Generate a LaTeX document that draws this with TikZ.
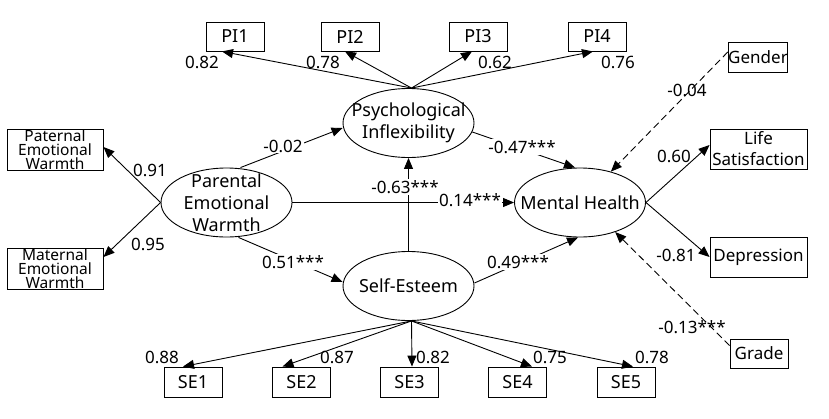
\documentclass[tikz,border=0pt]{standalone}
\usepackage{fontspec}
\setmainfont{Noto Sans}
\usetikzlibrary{arrows.meta,shapes.geometric}
\begin{document}
\begin{tikzpicture}[x=1pt,y=-1pt,
  lat/.style={draw, ellipse, minimum width=131pt, minimum height=69pt, inner sep=0pt, line width=0.9pt},
  lattext/.style={inner sep=0pt, align=center, font=\fontsize{18}{22}\selectfont},
  obs/.style={draw, rectangle, inner sep=0pt, align=center, line width=0.9pt, font=\fontsize{17}{21}\selectfont},
  obsbig/.style={obs, font=\fontsize{18}{21}\selectfont},
  obstight/.style={obs, font=\fontsize{15.5}{13.8}\selectfont},
  num/.style={inner sep=1pt, font=\fontsize{17}{20}\selectfont},
  numw/.style={num, fill=white},
  arr/.style={-{Triangle[length=11pt,width=9pt]}, line width=0.9pt},
  darr/.style={arr, dash pattern=on 7pt off 4pt}]
\useasboundingbox (0,0) rectangle (829,418);

% latent variables
\node[lat] (PEW) at (226.5,202.5) {};
\node[lattext] (PEWt) at (PEW) {Parental\\Emotional\\Warmth};
\node[lat] (PIe) at (408.5,123) {};
\node[lattext] (PIet) at (PIe) {Psychological\\Inflexibility};
\node[lat] (MH) at (580,202.5) {};
\node[lattext] (MHt) at (MH) {Mental Health};
\node[lat] (SEe) at (408.5,286) {};
\node[lattext] (SEet) at (SEe) {Self-Esteem};

% observed
\node[obstight, minimum width=96pt, minimum height=41pt] (Pat) at (55,149.5) {Paternal\\Emotional\\Warmth};
\node[obstight, minimum width=96pt, minimum height=41pt] (Mat) at (55,268.5) {Maternal\\Emotional\\Warmth};
\node[obsbig, minimum width=58pt, minimum height=29pt] (PI1) at (235,36.5) {PI1};
\node[obsbig, minimum width=58pt, minimum height=29pt] (PI2) at (350,36.5) {PI2};
\node[obsbig, minimum width=58pt, minimum height=29pt] (PI3) at (478,36.5) {PI3};
\node[obsbig, minimum width=58pt, minimum height=29pt] (PI4) at (597,36.5) {PI4};
\node[obsbig, minimum width=58pt, minimum height=30pt] (SE1) at (193,382) {SE1};
\node[obsbig, minimum width=58pt, minimum height=30pt] (SE2) at (301.5,382) {SE2};
\node[obsbig, minimum width=58pt, minimum height=30pt] (SE3) at (409.5,382) {SE3};
\node[obsbig, minimum width=58pt, minimum height=30pt] (SE4) at (517.5,382) {SE4};
\node[obsbig, minimum width=58pt, minimum height=30pt] (SE5) at (626,382) {SE5};
\node[obs, minimum width=58pt, minimum height=30pt] (Gender) at (758,57) {Gender};
\node[obs, minimum width=97pt, minimum height=40pt] (LS) at (758.5,149) {Life\\Satisfaction};
\node[obs, minimum width=97pt, minimum height=40pt] (Dep) at (758.5,257) {Depression};
\node[obs, minimum width=58pt, minimum height=29pt] (Grade) at (759,353.5) {Grade};

% loadings
\draw[arr] ([xshift=3pt]PIe.north) -- ([xshift=-13pt]PI1.south);
\draw[arr] ([xshift=3pt]PIe.north) -- ([xshift=-5pt]PI2.south);
\draw[arr] ([xshift=3pt]PIe.north) -- ([xshift=-6pt]PI3.south);
\draw[arr] ([xshift=3pt]PIe.north) -- ([xshift=-4pt]PI4.south);
\draw[arr] ([xshift=3pt]SEe.south) -- ([xshift=-10pt]SE1.north);
\draw[arr] ([xshift=3pt]SEe.south) -- ([xshift=-19pt]SE2.north);
\draw[arr] ([xshift=3pt]SEe.south) -- ([xshift=2.5pt]SE3.north);
\draw[arr] ([xshift=3pt]SEe.south) -- ([xshift=14.5pt]SE4.north);
\draw[arr] ([xshift=3pt]SEe.south) -- ([xshift=7pt]SE5.north);
\draw[arr] (PEW.west) -- ([yshift=2.5pt]Pat.east);
\draw[arr] (PEW.west) -- ([yshift=11.5pt]Mat.east);
\draw[arr] (MH.east) -- ([yshift=4pt]LS.west);
\draw[arr] (MH.east) -- (Dep.west);

% structural paths
\draw[arr] ([xshift=14pt]PEW.north) -- ([yshift=-5pt]PIe.west);
\draw[arr] ([xshift=12pt]PEW.south) -- ([yshift=4pt]SEe.west);
\draw[arr] (PEW.east) -- (MH.west);
\draw[arr] (SEe.north) -- (PIe.south);
\draw[arr] (PIe.-8) -- ([xshift=-5pt]MH.north);
\draw[arr] ([yshift=3pt]SEe.east) -- ([xshift=-2pt]MH.south);
\draw[darr] ([yshift=5pt]Gender.west) -- (MH.45);
\draw[darr] ([yshift=8pt]Grade.west) -- (MH.-40);

% coefficient labels
\node[numw] (l1) at (283,146) {-0.02};
\node[numw] (l2) at (293,262) {0.51***};
\node[numw] (l3) at (470,200) {0.14***};
\node[numw] (l4) at (405,187) {-0.63***};
\node[numw] (l5) at (522,147) {-0.47***};
\node[numw] (l6) at (518,262) {0.49***};
\node[num] (l7) at (687,90) {-0.04};
\node[num] (l8) at (674,156) {0.60};
\node[num] (l9) at (676,255) {-0.81};
\node[num] (l10) at (692,327) {-0.13***};
\node[num] (l11) at (150,170) {0.91};
\node[num] (l12) at (148,244) {0.95};
\node[num] (l13) at (202,62) {0.82};
\node[num] (l14) at (323,62) {0.78};
\node[num] (l15) at (495,62) {0.62};
\node[num] (l16) at (618,62) {0.76};
\node[num] (l17) at (162,357) {0.88};
\node[num] (l18) at (337,357) {0.87};
\node[num] (l19) at (433,357) {0.82};
\node[num] (l20) at (550,357) {0.75};
\node[num] (l21) at (652,357) {0.78};
\end{tikzpicture}
\end{document}
